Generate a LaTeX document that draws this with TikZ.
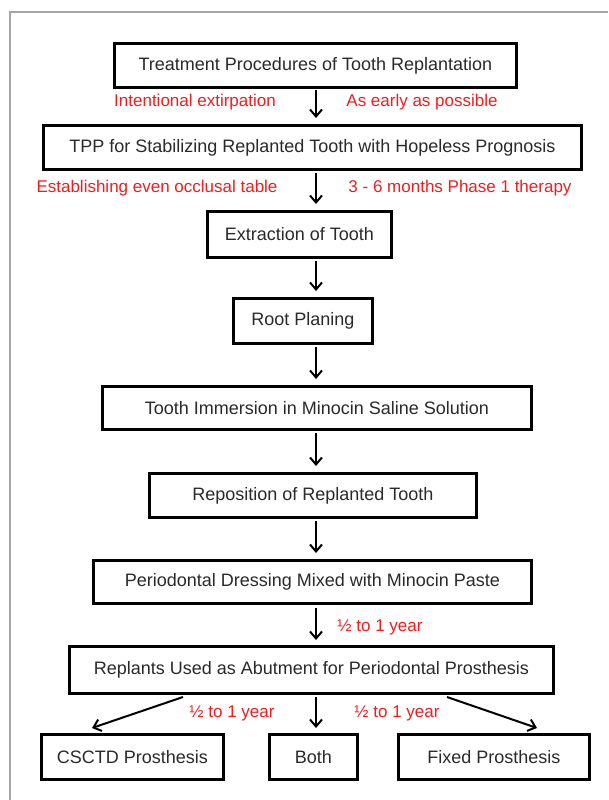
\documentclass[tikz,border=0pt]{standalone}
\usepackage{fontspec}
\setmainfont{Liberation Sans}
\usetikzlibrary{arrows.meta}
\definecolor{txtgray}{HTML}{2A2A2A}
\definecolor{lblred}{HTML}{F01E1E}
\tikzset{
  box/.style={draw=black, line width=2.8pt, inner sep=0pt, font=\fontsize{18}{20}\selectfont, text=txtgray, anchor=north west},
  lbl/.style={font=\fontsize{17}{19}\selectfont, text=lblred, inner sep=0pt},
  arr/.style={line width=2pt, -{Straight Barb[length=7pt, width=12pt, line width=2pt]}}
}
\begin{document}
\begin{tikzpicture}[x=1pt, y=-1pt]
\useasboundingbox (0,0) rectangle (608,800);
\fill[white] (0,0) rectangle (608,800);
\draw[gray!70, line width=1.2pt] (10,800) -- (10,12) -- (608,12);
% boxes
\node[box, minimum width=402pt, minimum height=44pt] (b1) at (113,42) {Treatment Procedures of Tooth Replantation};
\node[box, minimum width=538pt, minimum height=44pt] (b2) at (42,124) {TPP for Stabilizing Replanted Tooth with Hopeless Prognosis};
\node[box, minimum width=184pt, minimum height=46pt] (b3) at (206,210) {Extraction of Tooth};
\node[box, minimum width=139pt, minimum height=45pt] (b4) at (232,297) {Root Planing};
\node[box, minimum width=429pt, minimum height=43pt] (b5) at (101,385) {Tooth Immersion in Minocin Saline Solution};
\node[box, minimum width=327pt, minimum height=44pt] (b6) at (148,472) {Reposition of Replanted Tooth};
\node[box, minimum width=438pt, minimum height=43pt] (b7) at (92,559) {Periodontal Dressing Mixed with Minocin Paste};
\node[box, minimum width=484pt, minimum height=47pt] (b8) at (68,645) {Replants Used as Abutment for Periodontal Prosthesis};
\node[box, minimum width=182pt, minimum height=45pt] (b9) at (40,733) {CSCTD Prosthesis};
\node[box, minimum width=88pt, minimum height=45pt] (b10) at (268,733) {Both};
\node[box, minimum width=191pt, minimum height=45pt] (b11) at (397,733) {Fixed Prosthesis};
% arrows
\draw[arr] (316,90) -- (316,118);
\draw[arr] (316,173) -- (316,204);
\draw[arr] (316,261) -- (316,291);
\draw[arr] (316,347) -- (316,379);
\draw[arr] (316,433) -- (316,466);
\draw[arr] (316,521) -- (316,553);
\draw[arr] (316,608) -- (316,640);
\coordinate (l1) at (183,697);
\coordinate (r1) at (447,697);
\draw[arr] (l1) -- (92,728);
\draw[arr] (316,697) -- (316,728);
\draw[arr] (r1) -- (537,728);
% labels
\node[lbl] (t1) at (195,102) {Intentional extirpation};
\node[lbl] (t2) at (422,102) {As early as possible};
\node[lbl] (t3) at (157,188) {Establishing even occlusal table};
\node[lbl] (t4) at (460,188) {3 - 6 months Phase 1 therapy};
\node[lbl] (t5) at (380,627) {½ to 1 year};
\node[lbl] (t6) at (232,713) {½ to 1 year};
\node[lbl] (t7) at (397,713) {½ to 1 year};
\end{tikzpicture}
\end{document}
